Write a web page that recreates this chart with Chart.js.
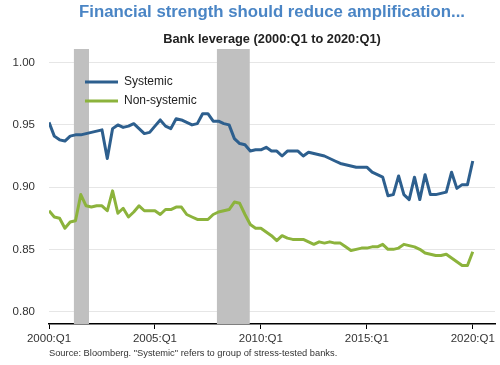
<!DOCTYPE html>
<html>
<head>
<meta charset="utf-8">
<script src="https://cdn.jsdelivr.net/npm/chart.js@4/dist/chart.umd.min.js"></script>
<style>
html,body{margin:0;padding:0;background:#fff;}
#wrap{width:500px;height:365px;position:relative;}
</style>
</head>
<body>
<div id="wrap"><canvas id="c" width="500" height="365"></canvas></div>
<script>
// Quarterly data, 2000:Q1 (index 0) to 2020:Q1 (index 80)
const systemic = [
0.952,0.941,0.938,0.937,0.941,0.942,0.942,0.943,0.944,0.945,
0.946,0.923,0.947,0.950,0.948,0.949,0.951,0.947,0.943,0.944,
0.949,0.954,0.949,0.947,0.955,0.954,0.952,0.950,0.951,0.959,
0.959,0.953,0.953,0.951,0.950,0.939,0.935,0.934,0.929,0.930,
0.930,0.932,0.929,0.929,0.925,0.929,0.929,0.929,0.925,0.928,
0.927,0.926,0.925,0.923,0.921,0.919,0.918,0.917,0.916,0.916,
0.916,0.912,0.910,0.908,0.893,0.894,0.909,0.894,0.890,0.908,
0.890,0.910,0.894,0.894,0.895,0.896,0.912,0.899,0.902,0.902,
0.921];
const nonSystemic = [
0.881,0.876,0.875,0.867,0.872,0.873,0.894,0.885,0.884,0.885,
0.885,0.881,0.897,0.879,0.883,0.876,0.880,0.885,0.881,0.881,
0.881,0.878,0.882,0.882,0.884,0.884,0.878,0.876,0.874,0.874,
0.874,0.878,0.880,0.881,0.882,0.888,0.887,0.878,0.870,0.867,
0.867,0.864,0.861,0.857,0.861,0.859,0.858,0.858,0.858,0.856,
0.854,0.856,0.855,0.856,0.855,0.855,0.852,0.849,0.850,0.851,
0.851,0.852,0.852,0.854,0.850,0.850,0.851,0.854,0.853,0.852,
0.850,0.847,0.846,0.845,0.845,0.846,0.843,0.840,0.837,0.837,
0.848];
const xTickQuarters = [0, 20, 40, 60, 80];
const xTickLabels = ['2000:Q1', '2005:Q1', '2010:Q1', '2015:Q1', '2020:Q1'];
const yTicks = [0.80, 0.85, 0.90, 0.95, 1.00];
// Recession shading, in quarter-index units from 2000:Q1
const recessionStart = [4.7, 31.7];
const recessionEnd = [7.55, 37.9];
const seriesNames = ['Systemic', 'Non-systemic'];
const titleText = 'Financial strength should reduce amplification...';
const subtitleText = 'Bank leverage (2000:Q1 to 2020:Q1)';
const sourceText = 'Source: Bloomberg. "Systemic" refers to group of stress-tested banks.';

const FONT = '"Liberation Sans", Arial, sans-serif';
const colors = ['#2d5f8e', '#8cb33c'];

const toPts = arr => arr.map((v, i) => ({x: i, y: v}));

const decor = {
  id: 'decor',
  beforeDatasetsDraw(chart) {
    const {ctx, chartArea, scales} = chart;
    ctx.save();
    ctx.fillStyle = '#c0c0c0';
    for (let k = 0; k < recessionStart.length; k++) {
      const x0 = scales.x.getPixelForValue(recessionStart[k]);
      const x1 = scales.x.getPixelForValue(recessionEnd[k]);
      ctx.fillRect(x0, chartArea.top, x1 - x0, chartArea.bottom - chartArea.top);
    }
    ctx.restore();
  },
  afterDraw(chart) {
    const {ctx, chartArea} = chart;
    const cx = (chartArea.left + chartArea.right) / 2;
    ctx.save();
    ctx.textAlign = 'center';
    ctx.textBaseline = 'middle';
    ctx.fillStyle = '#4a85c5';
    ctx.font = 'bold 16.8px ' + FONT;
    ctx.fillText(titleText, cx, 12);
    ctx.fillStyle = '#222';
    ctx.font = 'bold 12.8px ' + FONT;
    ctx.fillText(subtitleText, cx, 39);
    // source
    ctx.textAlign = 'left';
    ctx.fillStyle = '#333';
    ctx.font = '9.3px ' + FONT;
    ctx.fillText(sourceText, chartArea.left, 353);
    // legend
    const lx = 85, ly = [82, 101];
    ctx.font = '12px ' + FONT;
    ctx.fillStyle = '#222';
    for (let k = 0; k < 2; k++) {
      ctx.strokeStyle = colors[k];
      ctx.lineWidth = 3;
      ctx.beginPath();
      ctx.moveTo(lx, ly[k]);
      ctx.lineTo(lx + 33, ly[k]);
      ctx.stroke();
      ctx.fillText(seriesNames[k], lx + 39, ly[k]);
    }
    ctx.restore();
  }
};

new Chart(document.getElementById('c'), {
  type: 'line',
  data: {
    datasets: [
      {label: seriesNames[0], data: toPts(systemic), borderColor: colors[0], borderWidth: 3, pointRadius: 0, tension: 0, fill: false, borderJoinStyle: 'round'},
      {label: seriesNames[1], data: toPts(nonSystemic), borderColor: colors[1], borderWidth: 3, pointRadius: 0, tension: 0, fill: false, borderJoinStyle: 'round'}
    ]
  },
  options: {
    responsive: false,
    animation: false,
    layout: {padding: {top: 49, right: 5, bottom: 19, left: 0}},
    plugins: {legend: {display: false}, title: {display: false}, tooltip: {enabled: false}},
    scales: {
      x: {
        type: 'linear', min: 0, max: 84.2,
        afterBuildTicks: s => { s.ticks = xTickQuarters.map(v => ({value: v})); },
        afterFit: s => { s.height = 22; },
        ticks: {
          callback: (v) => xTickLabels[xTickQuarters.indexOf(v)],
          font: {family: FONT, size: 11.5}, color: '#333', maxRotation: 0, padding: 3
        },
        grid: {drawOnChartArea: false, drawTicks: true, tickLength: 5, color: '#000', lineWidth: 1},
        border: {display: true, color: '#000', width: 1.5}
      },
      y: {
        min: 0.79, max: 1.011,
        afterBuildTicks: s => { s.ticks = yTicks.map(v => ({value: v})); },
        afterFit: s => { s.width = 49; },
        ticks: {
          callback: v => v.toFixed(2),
          font: {family: FONT, size: 11.5}, color: '#333', padding: 14
        },
        grid: {color: '#e6e6e6', lineWidth: 1, drawTicks: false},
        border: {display: false}
      }
    }
  },
  plugins: [decor]
});
</script>
</body>
</html>
